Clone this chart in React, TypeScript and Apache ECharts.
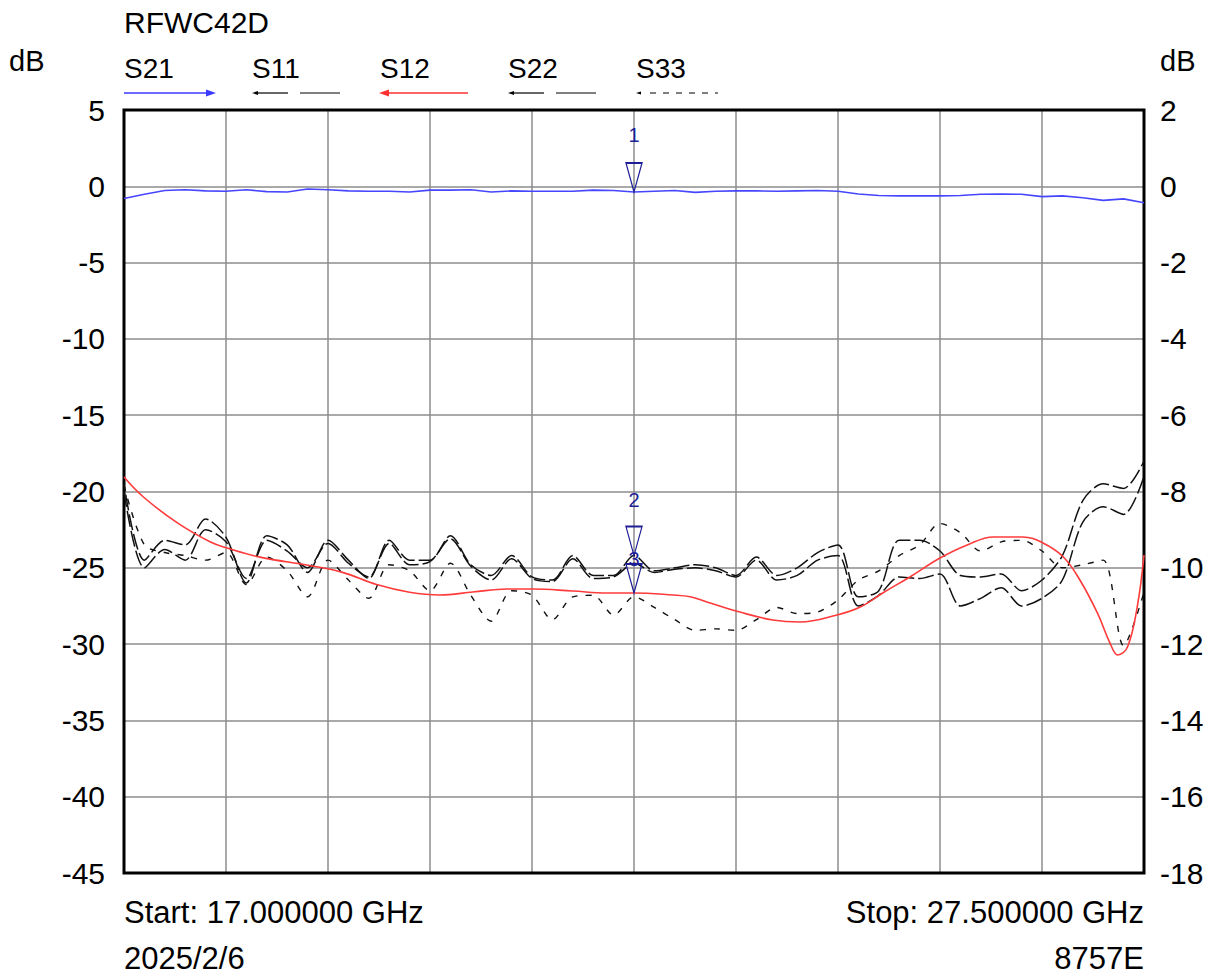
import React, { useEffect, useRef } from "react";
import * as echarts from "echarts";

const START_GHZ = 17;
const STOP_GHZ = 27.5;
const FONT = "'Liberation Sans', Arial, sans-serif";

// Frequency grid (GHz) for S21, S11, S22, S33
const freqs = [
  17.0, 17.21, 17.42, 17.63, 17.84, 18.05, 18.26, 18.47, 18.68, 18.89, 19.1, 19.31, 19.52, 19.73, 19.94,
  20.15, 20.36, 20.57, 20.78, 20.99, 21.2, 21.41, 21.62, 21.83, 22.04, 22.25, 22.46, 22.67, 22.88, 23.09,
  23.3, 23.51, 23.72, 23.93, 24.14, 24.35, 24.56, 24.77, 24.98, 25.19, 25.4, 25.61, 25.82, 26.03, 26.24,
  26.45, 26.66, 26.87, 27.08, 27.29, 27.5,
];

// S21 (right axis, dB)
const s21 = [
  -0.32, -0.21, -0.11, -0.09, -0.12, -0.13, -0.09, -0.14, -0.15, -0.07, -0.09, -0.12, -0.13, -0.13, -0.15,
  -0.1, -0.1, -0.09, -0.15, -0.12, -0.13, -0.13, -0.13, -0.1, -0.11, -0.15, -0.13, -0.11, -0.16, -0.13,
  -0.12, -0.12, -0.13, -0.12, -0.11, -0.13, -0.2, -0.24, -0.25, -0.25, -0.25, -0.24, -0.21, -0.2, -0.21,
  -0.27, -0.25, -0.3, -0.37, -0.33, -0.43,
];

// S11 (left axis, dB)
const s11 = [
  -19.5, -24.5, -23.2, -23.5, -21.8, -23.0, -26.0, -22.9, -23.5, -25.3, -23.2, -24.5, -25.7, -23.2, -24.5,
  -24.5, -22.9, -24.8, -25.5, -24.2, -25.6, -25.8, -24.2, -25.5, -25.5, -24.2, -25.2, -25.0, -24.8, -25.0,
  -25.5, -24.3, -25.5, -25.0, -24.0, -23.5, -26.9, -26.5, -23.2, -23.2, -23.9, -25.5, -25.6, -25.4, -26.5,
  -25.8, -24.2, -20.6, -19.5, -19.8, -18.0,
];

// S22 (left axis, dB)
const s22 = [
  -20.0, -25.0, -23.8, -24.5, -22.5, -23.3, -25.7, -23.2, -23.9, -25.0, -23.4, -24.7, -25.6, -23.4, -24.8,
  -24.6, -23.1, -24.9, -25.8, -24.4, -25.7, -25.9, -24.4, -25.7, -25.6, -24.7, -25.3, -25.1, -25.0, -25.2,
  -25.6, -24.5, -25.8, -25.5, -24.5, -24.2, -27.5, -26.8, -25.6, -25.7, -25.4, -27.5, -27.0, -26.3, -27.5,
  -27.0, -25.8, -22.0, -21.0, -21.5, -19.0,
];

// S33 (left axis, dB)
const s33 = [
  -19.6, -23.5, -24.0, -24.2, -24.5, -24.0, -26.1, -24.3, -25.2, -26.9, -24.5, -25.8, -27.0, -24.8, -25.2,
  -26.5, -24.7, -26.8, -28.5, -26.5, -26.8, -28.4, -26.9, -26.8, -28.1, -26.9, -27.6, -28.4, -29.1, -29.0,
  -29.1, -28.4, -27.6, -28.0, -27.9, -27.1, -25.8, -25.2, -24.2, -23.5, -22.1, -22.7, -23.9, -23.3, -23.2,
  -23.9, -25.0, -24.8, -24.5, -30.1, -26.6,
];

// S12 (left axis, dB) with its own frequency points
const s12Freqs = [
  17.0, 17.2, 17.55, 17.89, 18.06, 18.4, 18.91, 19.25, 19.6, 19.94, 20.25, 20.59, 20.94, 21.21, 21.62,
  21.97, 22.25, 22.65, 22.83, 23.0, 23.34, 23.68, 23.96, 24.34, 24.58, 24.81, 25.09, 25.4, 25.68, 25.95,
  26.25, 26.46, 26.67, 26.84, 27.02, 27.15, 27.23, 27.33, 27.43, 27.5,
];
const s12 = [
  -19.05, -20.36, -22.06, -23.31, -23.7, -24.3, -24.85, -25.3, -26.1, -26.6, -26.78, -26.59, -26.39, -26.39, -26.52,
  -26.65, -26.65, -26.78, -26.9, -27.24, -27.9, -28.42, -28.55, -28.09, -27.57, -26.65, -25.6, -24.36, -23.5, -22.98,
  -22.98, -23.37, -24.29, -25.8, -27.96, -29.93, -30.71, -30.19, -27.57, -24.16,
];

const MARKER_FREQ_INDEX = 25; // 22.25 GHz on the shared grid
const S12_MARKER_INDEX = 16; // 22.25 GHz on S12 grid

const LEFT_MIN = -45, LEFT_MAX = 5, LEFT_STEP = 5;
const RIGHT_MIN = -18, RIGHT_MAX = 2, RIGHT_STEP = 2;

const legendNames = ["S21", "S11", "S12", "S22", "S33"];

const NAVY = "#1e1e96";

function pairs(fs: number[], vs: number[]) {
  return fs.map((f, i) => [f - START_GHZ, vs[i]]);
}

function marker(x: number, y: number, label: string, labelDist: number) {
  return {
    symbol: "triangle",
    symbolSize: [16, 29],
    symbolRotate: 180,
    symbolOffset: [0, "-50%"],
    silent: true,
    itemStyle: { color: "rgba(255,255,255,0)", borderColor: NAVY, borderWidth: 1.5 },
    label: {
      show: true,
      position: "top",
      distance: labelDist,
      formatter: label,
      color: NAVY,
      fontSize: 20,
      fontFamily: FONT,
    },
    data: [{ coord: [x, y] }],
  };
}

export default function App() {
  const ref = useRef<HTMLDivElement>(null);
  useEffect(() => {
    if (!ref.current) return;
    const chart = echarts.init(ref.current, undefined, { renderer: "svg" });
    const textStyle = (x: number, y: number, text: string, align = "left", size = 27) => ({
      type: "text",
      x,
      y,
      silent: true,
      style: {
        text,
        fill: "#000",
        font: `${size}px ${FONT}`,
        textAlign: align,
        textVerticalAlign: "middle",
      },
    });
    const legendY = 93;
    const lx = [124, 252, 380, 508, 636];
    const graphics: any[] = [
      textStyle(124, 22, "RFWC42D", "left", 30),
      textStyle(9, 61, "dB", "left", 29),
      textStyle(1160, 61, "dB", "left", 29),
      textStyle(124, 912, `Start: ${START_GHZ.toFixed(6)} GHz`, "left", 31),
      textStyle(1144, 912, `Stop: ${STOP_GHZ.toFixed(6)} GHz`, "right", 31),
      textStyle(124, 958, "2025/2/6", "left", 31),
      textStyle(1144, 958, "8757E", "right", 31),
      ...legendNames.map((n, i) => textStyle(lx[i], 68, n, "left", 28)),
      // S21 legend: blue arrow to right
      { type: "line", shape: { x1: 124, y1: legendY, x2: 208, y2: legendY }, style: { stroke: "#3a3aff", lineWidth: 1.5 } },
      { type: "polygon", shape: { points: [[216, legendY], [206, legendY - 3.5], [206, legendY + 3.5]] }, style: { fill: "#3a3aff" } },
      // S11 legend
      { type: "polygon", shape: { points: [[252, legendY], [258, legendY - 2], [258, legendY + 2]] }, style: { fill: "#000" } },
      { type: "line", shape: { x1: 256, y1: legendY, x2: 288, y2: legendY }, style: { stroke: "#000", lineWidth: 1.2 } },
      { type: "line", shape: { x1: 300, y1: legendY, x2: 340, y2: legendY }, style: { stroke: "#000", lineWidth: 1.2 } },
      // S12 legend: red arrow to left
      { type: "polygon", shape: { points: [[379, legendY], [389, legendY - 3.5], [389, legendY + 3.5]] }, style: { fill: "#ff3030" } },
      { type: "line", shape: { x1: 386, y1: legendY, x2: 468, y2: legendY }, style: { stroke: "#ff3030", lineWidth: 1.5 } },
      // S22 legend
      { type: "polygon", shape: { points: [[508, legendY], [514, legendY - 2], [514, legendY + 2]] }, style: { fill: "#000" } },
      { type: "line", shape: { x1: 512, y1: legendY, x2: 544, y2: legendY }, style: { stroke: "#000", lineWidth: 1.2 } },
      { type: "line", shape: { x1: 556, y1: legendY, x2: 596, y2: legendY }, style: { stroke: "#000", lineWidth: 1.2 } },
      // S33 legend: short dashes
      { type: "polygon", shape: { points: [[636, legendY], [641, legendY - 1.5], [641, legendY + 1.5]] }, style: { fill: "#000" } },
      { type: "line", shape: { x1: 650, y1: legendY, x2: 718, y2: legendY }, style: { stroke: "#000", lineWidth: 1.2, lineDash: [6, 7] } },
    ];

    const mx = freqs[MARKER_FREQ_INDEX] - START_GHZ;
    const option: any = {
      animation: false,
      backgroundColor: "#fff",
      grid: {
        left: 124,
        top: 110,
        width: 1020,
        height: 763,
        show: true,
        borderColor: "#000",
        borderWidth: 3,
        z: 3,
      },
      xAxis: {
        type: "value",
        min: 0,
        max: STOP_GHZ - START_GHZ,
        interval: (STOP_GHZ - START_GHZ) / 10,
        axisLine: { show: false },
        axisTick: { show: false },
        axisLabel: { show: false },
        splitLine: { show: true, lineStyle: { color: "#8c8c8c", width: 1.5 } },
      },
      yAxis: [
        {
          type: "value",
          min: LEFT_MIN,
          max: LEFT_MAX,
          interval: LEFT_STEP,
          position: "left",
          axisLine: { show: false },
          axisTick: { show: false },
          axisLabel: { color: "#000", fontSize: 30, fontFamily: FONT, margin: 19 },
          splitLine: { show: true, lineStyle: { color: "#8c8c8c", width: 1.5 } },
        },
        {
          type: "value",
          min: RIGHT_MIN,
          max: RIGHT_MAX,
          interval: RIGHT_STEP,
          position: "right",
          axisLine: { show: false },
          axisTick: { show: false },
          axisLabel: { color: "#000", fontSize: 30, fontFamily: FONT, margin: 16 },
          splitLine: { show: false },
        },
      ],
      series: [
        {
          name: "S33",
          type: "line",
          yAxisIndex: 0,
          data: pairs(freqs, s33),
          smooth: 0.3,
          showSymbol: false,
          lineStyle: { color: "#111", width: 1.4, type: [6, 8] },
        },
        {
          name: "S22",
          type: "line",
          yAxisIndex: 0,
          data: pairs(freqs, s22),
          smooth: 0.3,
          showSymbol: false,
          lineStyle: { color: "#111", width: 1.5, type: [16, 4] },
        },
        {
          name: "S11",
          type: "line",
          yAxisIndex: 0,
          data: pairs(freqs, s11),
          smooth: 0.3,
          showSymbol: false,
          lineStyle: { color: "#111", width: 1.5, type: [16, 4], dashOffset: 9 },
          markPoint: marker(mx, s11[MARKER_FREQ_INDEX], "2", 16),
        },
        {
          name: "S12",
          type: "line",
          yAxisIndex: 0,
          data: pairs(s12Freqs, s12),
          smooth: 0.4,
          showSymbol: false,
          lineStyle: { color: "#ff3a3a", width: 1.6 },
          markPoint: marker(s12Freqs[S12_MARKER_INDEX] - START_GHZ, s12[S12_MARKER_INDEX], "3", -6),
        },
        {
          name: "S21",
          type: "line",
          yAxisIndex: 1,
          data: pairs(freqs, s21),
          smooth: false,
          showSymbol: false,
          lineStyle: { color: "#4646ff", width: 1.6 },
          markPoint: marker(mx, s21[MARKER_FREQ_INDEX], "1", 17),
        },
      ],
      graphic: graphics,
    };
    chart.setOption(option);
    return () => chart.dispose();
  }, []);
  return (
    <div
      ref={ref}
      style={{ position: "fixed", left: 0, top: 0, width: 1210, height: 975, background: "#fff" }}
    />
  );
}
